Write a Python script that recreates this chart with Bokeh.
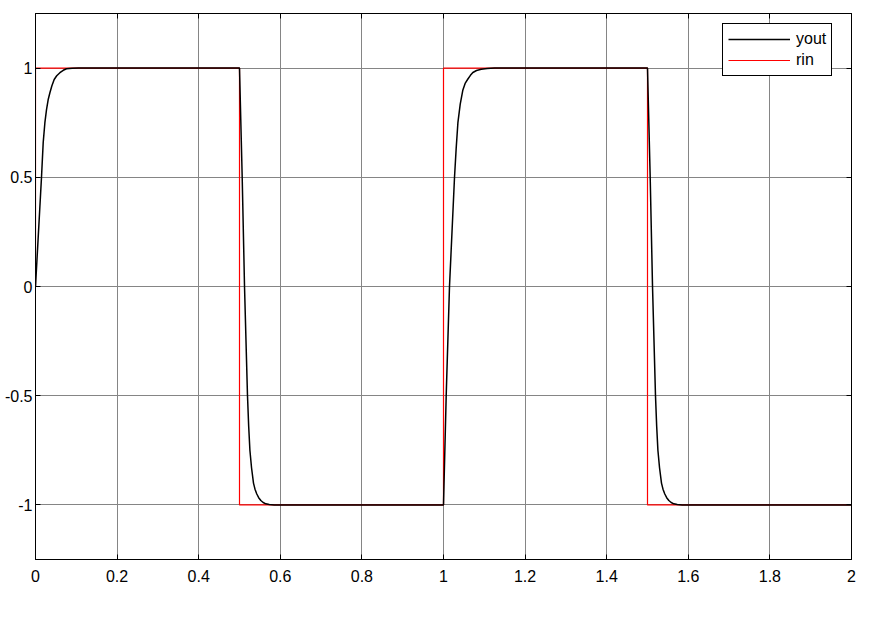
from bokeh.plotting import figure
from bokeh.models import Range1d, FixedTicker, LinearAxis, Legend, LegendItem
from bokeh.embed import file_html
from bokeh.resources import INLINE

# ---- data ----
rin_t = [0.0, 0.0, 0.5, 0.5, 1.0, 1.0, 1.5, 1.5, 2.0]
rin_y = [0, 1, 1, -1, -1, 1, 1, -1, -1]

yout_t = [
    0.0, 0.005, 0.010, 0.0147, 0.0189, 0.023, 0.027, 0.031, 0.0353, 0.040,
    0.0458, 0.052, 0.0598, 0.068, 0.076, 0.090, 0.105, 0.3, 0.5,
    0.5066, 0.5123, 0.5196, 0.5225, 0.5255, 0.5295, 0.5343, 0.538, 0.5424,
    0.547, 0.5523, 0.558, 0.5645, 0.573, 0.585, 0.8, 1.0,
    1.0066, 1.0147, 1.027, 1.031, 1.0353, 1.041, 1.0475, 1.053, 1.0598,
    1.066, 1.072, 1.081, 1.0924, 1.107, 1.125, 1.3, 1.5,
    1.5066, 1.5123, 1.5196, 1.5225, 1.5255, 1.5295, 1.5343, 1.538, 1.5424,
    1.547, 1.5523, 1.558, 1.5645, 1.573, 1.585, 1.8, 2.0,
]
yout_y = [
    0.0, 0.17, 0.34, 0.5, 0.66, 0.75, 0.81, 0.855, 0.887, 0.918,
    0.948, 0.965, 0.979, 0.99, 0.997, 0.9995, 1.0, 1.0, 1.0,
    0.5, 0.0, -0.5, -0.64, -0.75, -0.83, -0.9, -0.928, -0.95,
    -0.967, -0.98, -0.989, -0.995, -0.998, -1.0, -1.0, -1.0,
    -0.5, 0.0, 0.5, 0.63, 0.75, 0.835, 0.9, 0.93, 0.95,
    0.967, 0.98, 0.989, 0.995, 0.998, 1.0, 1.0, 1.0,
    0.5, 0.0, -0.5, -0.64, -0.75, -0.83, -0.9, -0.928, -0.95,
    -0.967, -0.98, -0.989, -0.995, -0.998, -1.0, -1.0, -1.0,
]

x_ticks = [0, 0.2, 0.4, 0.6, 0.8, 1.0, 1.2, 1.4, 1.6, 1.8, 2.0]
x_tick_labels = ["0", "0.2", "0.4", "0.6", "0.8", "1", "1.2", "1.4", "1.6", "1.8", "2"]
y_ticks = [-1, -0.5, 0, 0.5, 1]
y_tick_labels = ["-1", "-0.5", "0", "0.5", "1"]

FONT = "Liberation Sans"
FS = "16px"

p = figure(frame_width=816, frame_height=546, output_backend="svg",
           toolbar_location=None, x_range=Range1d(0, 2), y_range=Range1d(-1.25, 1.25),
           min_border_left=35, min_border_right=12, min_border_top=13, min_border_bottom=10,
           background_fill_color="white", border_fill_color="white")

p.outline_line_color = "black"
p.outline_line_width = 1

xt = FixedTicker(ticks=x_ticks)
yt = FixedTicker(ticks=y_ticks)

for ax in p.xaxis:
    ax.ticker = xt
    ax.major_label_overrides = {t: l for t, l in zip(x_ticks, x_tick_labels)}
    ax.major_label_standoff = 10
for ax in p.yaxis:
    ax.ticker = yt
    ax.major_label_overrides = {t: l for t, l in zip(y_ticks, y_tick_labels)}
    ax.major_label_standoff = 3

for ax in list(p.xaxis) + list(p.yaxis):
    ax.major_tick_in = 5
    ax.major_tick_out = 0
    ax.minor_tick_line_color = None
    ax.axis_line_color = "black"
    ax.major_tick_line_color = "black"
    ax.major_label_text_font = FONT
    ax.major_label_text_font_size = FS
    ax.major_label_text_color = "black"

top = LinearAxis(ticker=xt, major_tick_in=5, major_tick_out=0, minor_tick_line_color=None,
                 major_label_text_font_size="1px", major_label_text_color=None,
                 major_label_standoff=0,
                 axis_line_color="black", major_tick_line_color="black")
right = LinearAxis(ticker=yt, major_tick_in=5, major_tick_out=0, minor_tick_line_color=None,
                   major_label_text_font_size="1px", major_label_text_color=None,
                   major_label_standoff=0,
                   axis_line_color="black", major_tick_line_color="black")
p.add_layout(top, "above")
p.add_layout(right, "right")

p.xgrid.ticker = xt
p.ygrid.ticker = yt
for g in (p.xgrid, p.ygrid):
    g.grid_line_color = "#858585"
    g.grid_line_width = 1

r_rin = p.line(rin_t, rin_y, line_color="#ff0000", line_width=1.2)
r_yout = p.line(yout_t, yout_y, line_color="black", line_width=1.5)

legend = Legend(items=[LegendItem(label="yout", renderers=[r_yout]),
                       LegendItem(label="rin", renderers=[r_rin])],
                location=(687, 483))
legend.border_line_color = "black"
legend.border_line_width = 1
legend.border_line_alpha = 1
legend.background_fill_color = "white"
legend.background_fill_alpha = 1
legend.label_text_font = FONT
legend.label_text_font_size = FS
legend.label_text_color = "black"
legend.glyph_width = 62
legend.glyph_height = 20
legend.label_height = 20
legend.label_standoff = 6
legend.padding = 5
legend.spacing = 1
legend.margin = 0
p.add_layout(legend, "center")

open("out.html", "w").write(file_html(p, INLINE))
